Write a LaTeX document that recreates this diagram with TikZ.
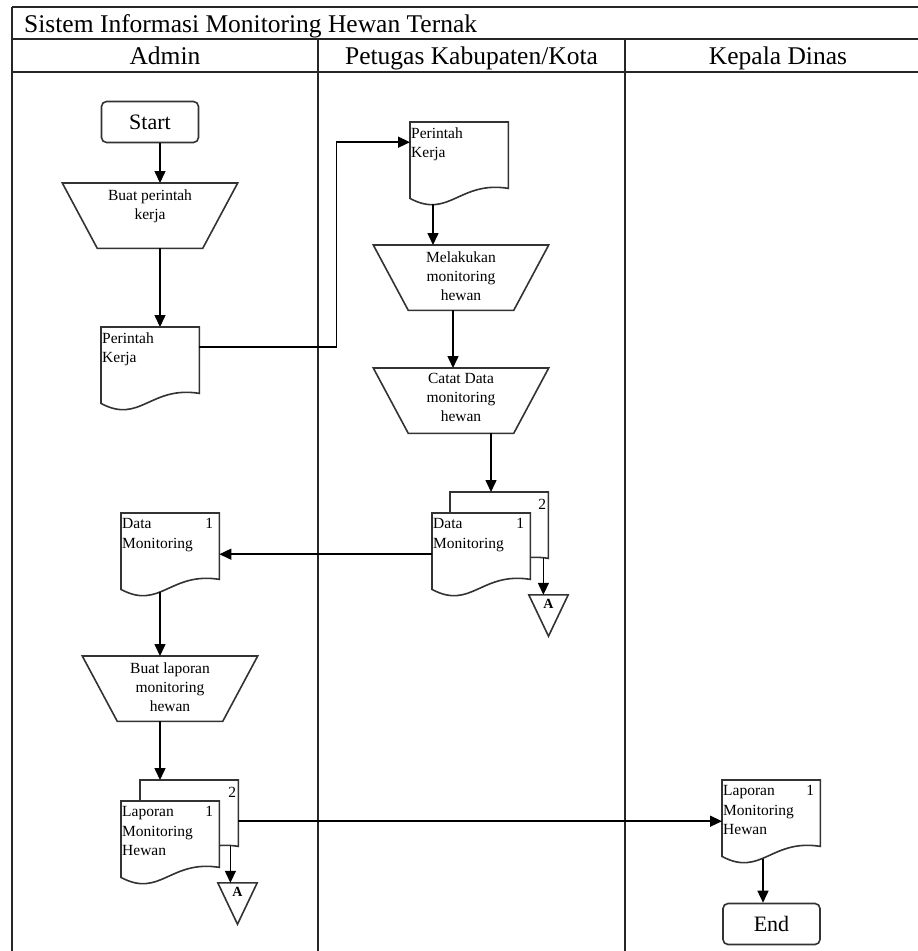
\documentclass[tikz,border=0pt]{standalone}
\usepackage{fontspec}
\setmainfont{Liberation Serif}
\usetikzlibrary{arrows.meta,calc}
\pgfdeclarelayer{bg}
\pgfsetlayers{bg,main}

\tikzset{
  outl/.style={draw=black!80, line width=1.6pt, fill=white, line join=miter},
  tablerule/.style={draw=black!85, line width=2pt},
  arr/.style={draw=black, line width=1.5pt, -{Triangle[length=12pt,width=11pt]}},
  termbox/.style={draw=black!80, line width=1.6pt, rounded corners=5pt, minimum width=97pt, minimum height=41pt, inner sep=0, font=\fontsize{22}{26}\selectfont},
  docbox/.style={anchor=north west, minimum width=98pt, minimum height=66pt, inner sep=0},
  trapbox/.style={anchor=north, minimum width=175pt, minimum height=65pt, inner sep=0},
  tribox/.style={minimum width=39pt, minimum height=41pt, inner sep=0},
  doctext/.style={anchor=north west, inner sep=0, align=left, font=\fontsize{15.5}{19.5}\selectfont},
  traptext/.style={anchor=north, inner sep=0, align=center, font=\fontsize{15.5}{19}\selectfont},
  numtext/.style={anchor=north east, inner sep=0, font=\fontsize{15.5}{19}\selectfont},
  tritext/.style={inner sep=0, font=\bfseries\fontsize{14}{16}\selectfont},
  hdr/.style={anchor=base, inner sep=0, font=\fontsize{25.5}{30}\selectfont},
}

\newcommand\docoutline[1]{%
  \path[outl] (#1.north west) -- (#1.north east) -- (#1.south east)
    .. controls ($(#1.south east)+(-49,-8)$) and ($(#1.south west)+(39,31)$) .. ($(#1.south west)+(0,10)$) -- cycle;}
\newcommand\trapoutline[1]{%
  \path[outl] (#1.north west) -- (#1.north east) -- ($(#1.south east)+(-35,0)$) -- ($(#1.south west)+(35,0)$) -- cycle;}
\newcommand\trioutline[1]{%
  \path[outl] (#1.north west) -- (#1.north east) -- (#1.south) -- cycle;}

\begin{document}
\begin{tikzpicture}[x=1pt,y=-1pt]
\useasboundingbox (0,0) rectangle (918,951);

% table
\draw[tablerule] (12,7) -- (918,7);
\draw[tablerule] (12,39) -- (918,39);
\draw[tablerule] (12,72) -- (918,72);
\draw[tablerule] (12,7) -- (12,951);
\draw[tablerule] (318,39) -- (318,951);
\draw[tablerule] (625,39) -- (625,951);

\node[anchor=base west, inner sep=0, font=\fontsize{25.5}{30}\selectfont] (title) at (24,32) {Sistem Informasi Monitoring Hewan Ternak};
\node[hdr] (hA) at (165,64) {Admin};
\node[hdr] (hP) at (471.5,64) {Petugas Kabupaten/Kota};
\node[hdr] (hK) at (778,64) {Kepala Dinas};

% shape nodes
\node[termbox] (start) at (150,122) {Start};
\node[trapbox] (t1) at (150,183) {};
\node[docbox] (d1) at (101,327) {};
\node[docbox] (d2) at (410,122) {};
\node[trapbox] (t2) at (461,245) {};
\node[trapbox] (t3) at (461,368) {};
\node[docbox] (d4b) at (450,492) {};
\node[docbox] (d4) at (432,513) {};
\node[tribox] (a1) at (548.5,615.5) {};
\node[docbox] (d3) at (121,513) {};
\node[trapbox] (t4) at (170,656) {};
\node[docbox] (d5b) at (140,780) {};
\node[docbox] (d5) at (121,801) {};
\node[tribox] (a2) at (237.5,903.5) {};
\node[docbox] (d6) at (722,780) {};
\node[termbox] (end) at (771.5,924) {End};

\begin{pgfonlayer}{bg}
  \trapoutline{t1}
  \docoutline{d1}
  \docoutline{d2}
  \trapoutline{t2}
  \trapoutline{t3}
  \docoutline{d4b}
  \docoutline{d4}
  \trioutline{a1}
  \docoutline{d3}
  \trapoutline{t4}
  \docoutline{d5b}
  \docoutline{d5}
  \trioutline{a2}
  \docoutline{d6}
\end{pgfonlayer}

% texts
\node[traptext] (t1t) at ($(t1.north)+(0,6.5)$) {Buat perintah\\kerja};
\node[traptext] (t2t) at ($(t2.north)+(0,6.5)$) {Melakukan\\monitoring\\hewan};
\node[traptext] (t3t) at ($(t3.north)+(0,5)$) {Catat Data\\monitoring\\hewan};
\node[traptext] (t4t) at ($(t4.north)+(0,6.5)$) {Buat laporan\\monitoring\\hewan};

\node[doctext] (d1t) at ($(d1.north west)+(1,5.5)$) {Perintah\\Kerja};
\node[doctext] (d2t) at ($(d2.north west)+(1,5.5)$) {Perintah\\Kerja};
\node[doctext] (d3t) at ($(d3.north west)+(1,5.5)$) {Data\\Monitoring};
\node[numtext] (d3n) at ($(d3.north east)+(-6,5.5)$) {1};
\node[doctext] (d4t) at ($(d4.north west)+(1,5.5)$) {Data\\Monitoring};
\node[numtext] (d4n) at ($(d4.north east)+(-6,5.5)$) {1};
\node[numtext] (d4bn) at ($(d4b.north east)+(-2,7.5)$) {2};
\node[doctext] (d5t) at ($(d5.north west)+(1,5.5)$) {Laporan\\Monitoring\\Hewan};
\node[numtext] (d5n) at ($(d5.north east)+(-6,5.5)$) {1};
\node[numtext] (d5bn) at ($(d5b.north east)+(-2,7.5)$) {2};
\node[doctext] (d6t) at ($(d6.north west)+(1,5.5)$) {Laporan\\Monitoring\\Hewan};
\node[numtext] (d6n) at ($(d6.north east)+(-6,5.5)$) {1};

\node[tritext] (a1t) at ($(a1.north)+(0,9.5)$) {A};
\node[tritext] (a2t) at ($(a2.north)+(0,9.5)$) {A};

% connectors
\draw[arr] ([xshift=10pt]start.south) -- ([xshift=10pt]t1.north);
\draw[arr] ([xshift=10pt]t1.south) -- ([xshift=10pt]t1.south |- d1.north);
\draw[arr] ([yshift=13pt]d1.east) -- ++(137,0) |- ([yshift=13pt]d2.west);
\draw[arr] ([xshift=23pt,yshift=-16pt]d2.south west) -- ([xshift=23pt]d2.south west |- t2.north);
\draw[arr] ([xshift=-8pt]t2.south) -- ([xshift=-8pt]t3.north);
\draw[arr] ([xshift=30pt]t3.south) -- ([xshift=30pt]t3.south |- d4b.north);
\draw[arr] ([yshift=-8pt]d4.west) -- ([yshift=-8pt]d3.east);
\draw[arr] ([xshift=-5pt]d4b.south east) -- ([xshift=-5pt]d4b.south east |- a1.north);
\draw[arr] ([xshift=39pt,yshift=-13pt]d3.south west) -- ([xshift=39pt]d3.south west |- t4.north);
\draw[arr] ([xshift=-10pt]t4.south) -- ([xshift=-10pt]t4.south |- d5b.north);
\draw[arr] ([yshift=-8pt]d5b.east) -- ([yshift=-8pt]d6.west);
\draw[arr] ([xshift=-8pt]d5b.south east) -- ([xshift=-8pt]d5b.south east |- a2.north);
\draw[arr] ([xshift=41pt,yshift=-13pt]d6.south west) -- ([xshift=41pt]d6.south west |- end.north);
\end{tikzpicture}
\end{document}
